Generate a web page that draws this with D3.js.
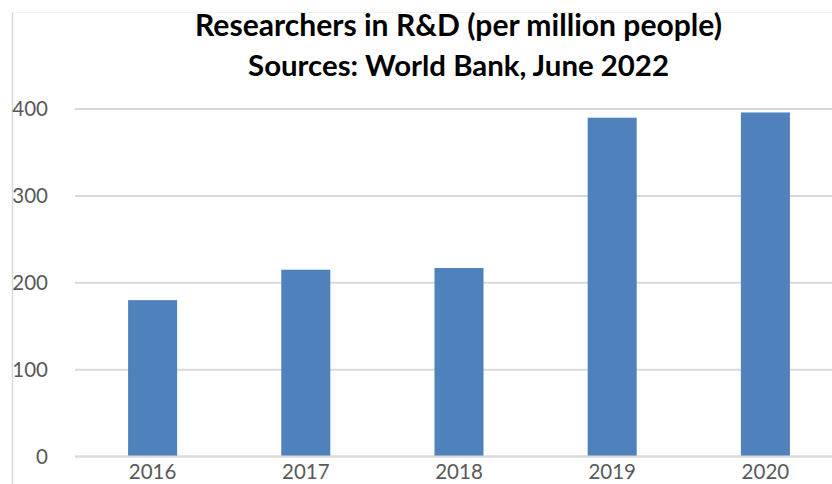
<!DOCTYPE html>
<html>
<head>
<meta charset="utf-8">
<script src="https://cdn.jsdelivr.net/npm/d3@7"></script>
<style>
  html, body { margin: 0; padding: 0; background: #fff; }
  svg { display: block; }
</style>
</head>
<body>
<svg id="chart" width="832" height="484"></svg>
<script>
const years = ["2016", "2017", "2018", "2019", "2020"];
const researchers = [180, 215, 217, 390, 396];
const yTicks = [0, 100, 200, 300, 400];
const titleLines = ["Researchers in R&D (per million people)", "Sources: World Bank, June 2022"];

const svg = d3.select("#chart");
const W = 832, H = 484;
const font = "Lato, 'Open Sans', 'DejaVu Sans', sans-serif";

// chart border (left and top, faint)
svg.append("line").attr("x1", 12.5).attr("x2", 12.5).attr("y1", 12).attr("y2", H)
  .attr("stroke", "#d9d9d9").attr("stroke-width", 1.5);
svg.append("line").attr("x1", 12).attr("x2", W).attr("y1", 12.5).attr("y2", 12.5)
  .attr("stroke", "#f0f0f0").attr("stroke-width", 1);

const x = d3.scaleBand().domain(years).range([76, 842]).paddingInner(0.68).paddingOuter(0.34);
const y = d3.scaleLinear().domain([0, 400]).range([456.5, 109]);

// gridlines
svg.append("g").selectAll("line").data(yTicks).join("line")
  .attr("x1", 75).attr("x2", W)
  .attr("y1", d => y(d)).attr("y2", d => y(d))
  .attr("stroke", "#d9d9d9").attr("stroke-width", 2);

// y axis labels
const yAxis = d3.axisLeft(y).tickValues(yTicks).tickSize(0).tickPadding(0);
const gy = svg.append("g").attr("transform", "translate(48,0)").call(yAxis);
gy.select(".domain").remove();
gy.selectAll("text").attr("font-family", font).attr("font-size", 20.5).attr("fill", "#595959");

// bars
svg.append("g").selectAll("rect").data(years).join("rect")
  .attr("x", d => x(d))
  .attr("width", x.bandwidth())
  .attr("y", (d, i) => y(researchers[i]))
  .attr("height", (d, i) => y(0) - y(researchers[i]))
  .attr("fill", "#4f81bd");

// redraw zero axis line on top
svg.append("line").attr("x1", 75).attr("x2", W).attr("y1", y(0)).attr("y2", y(0))
  .attr("stroke", "#d9d9d9").attr("stroke-width", 2);

// x axis labels
const xAxis = d3.axisBottom(x).tickSize(0).tickPadding(0);
const gx = svg.append("g").attr("transform", "translate(0,464)").call(xAxis);
gx.select(".domain").remove();
gx.selectAll("text").attr("font-family", font).attr("font-size", 20.5).attr("fill", "#595959")
  .attr("dy", "0.72em");

// title
const titleCenter = 458.5;
const targetWidths = [527, 421];
const baselines = [36, 76];
titleLines.forEach((t, i) => {
  const txt = svg.append("text")
    .attr("x", titleCenter).attr("y", baselines[i])
    .attr("text-anchor", "middle")
    .attr("font-family", font).attr("font-weight", "bold")
    .attr("font-size", 26).attr("fill", "#000")
    .text(t);
  const w = txt.node().getComputedTextLength();
  txt.attr("font-size", 26 * targetWidths[i] / w);
});
</script>
</body>
</html>
